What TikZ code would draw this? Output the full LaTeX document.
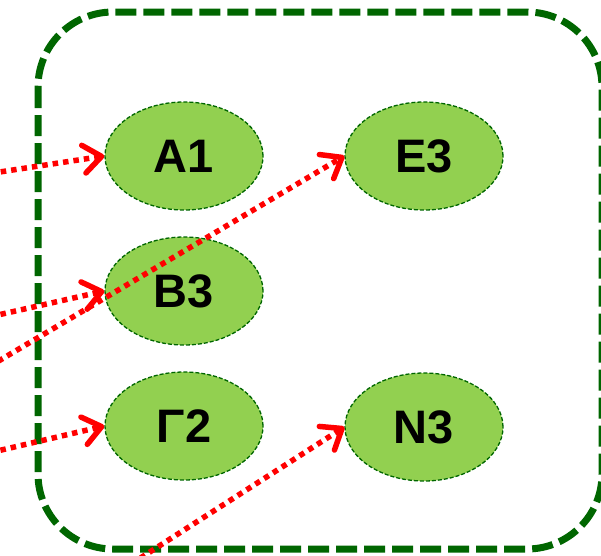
\documentclass[tikz,border=0pt]{standalone}
\usepackage{fontspec}
\setmainfont{Liberation Sans}
\usetikzlibrary{shapes.geometric,arrows.meta}
\definecolor{boxgreen}{RGB}{0,102,0}
\definecolor{fillgreen}{RGB}{146,208,80}
\definecolor{arrred}{RGB}{255,0,0}
\tikzset{
  grp/.style={draw=boxgreen, line width=7pt, dash pattern=on 21pt off 7pt, rounded corners=75pt},
  ell/.style={ellipse, draw=boxgreen, fill=fillgreen, line width=1.3pt, dash pattern=on 4pt off 2pt,
    minimum width=158pt, minimum height=108pt, inner sep=0pt,
    font=\fontsize{47}{47}\selectfont\bfseries},
  redarrow/.style={draw=arrred, line width=5.5pt, dash pattern=on 5.5pt off 5pt,
    -{Straight Barb[length=18pt,width=28pt,line cap=round,line join=round,sep=0pt]}},
}
\begin{document}
\begin{tikzpicture}[x=1pt,y=-1pt]
\useasboundingbox (0,0) rectangle (601,555);
\clip (0,0) rectangle (601,555);
\draw[grp] (38,12) rectangle (602,549);
\node[ell] (A1) at (184,156) {A1};
\node[ell] (E3) at (424,156) {E3};
\node[ell] (B3) at (184,291) {B3};
\node[ell] (G2) at (184,426) {Γ2};
\node[ell] (N3) at (424,427) {N3};
\coordinate (sA) at (-20,175);
\coordinate (sB) at (-20,319);
\coordinate (sE) at (-20,372);
\coordinate (sG) at (-20,455);
\coordinate (sN) at (114,575);
\draw[redarrow] (sA) -- (A1.west);
\draw[redarrow] (sB) -- (B3.west);
\draw[redarrow] (sE) -- (E3.west);
\draw[redarrow] (sG) -- (G2.west);
\draw[redarrow] (sN) -- (N3.west);
\end{tikzpicture}
\end{document}
